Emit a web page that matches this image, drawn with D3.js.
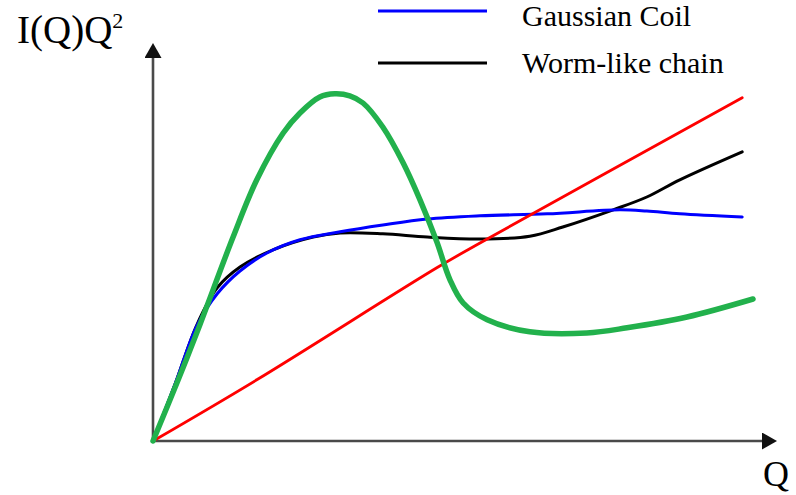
<!DOCTYPE html>
<html>
<head>
<meta charset="utf-8">
<script src="https://cdn.jsdelivr.net/npm/d3@7"></script>
<style>
  html, body { margin: 0; padding: 0; background: #fff; }
  svg { display: block; }
  text { font-family: "Liberation Serif", "Times New Roman", serif; fill: #000; }
</style>
</head>
<body>
<svg id="chart" width="796" height="495"></svg>
<script>
// Kratky plot sketch: I(Q)Q^2 versus Q for different chain conformations (arbitrary units)
const gaussianQ = [0, 0.37, 0.73, 1.07, 1.45, 1.9, 2.45, 3.12, 3.83, 4.57, 5.45, 6.57, 7.78, 8.23, 8.78, 9.82];
const gaussianI = [0, 1.43, 2.88, 3.68, 4.25, 4.7, 5.03, 5.23, 5.4, 5.55, 5.63, 5.68, 5.78, 5.75, 5.68, 5.6];

const wormQ = [0, 0.37, 0.73, 1.07, 1.45, 2.0, 2.67, 3.12, 3.83, 4.57, 5.45, 6.28, 6.83, 7.67, 8.23, 8.78, 9.82];
const wormI = [0, 1.43, 2.9, 3.83, 4.35, 4.78, 5.1, 5.2, 5.18, 5.1, 5.05, 5.12, 5.35, 5.78, 6.1, 6.53, 7.23];

const rodQ = [0, 1.73, 4.73, 5.45, 9.82];
const rodI = [0, 1.53, 4.33, 4.95, 8.58];

const globularQ = [0, 0.42, 0.78, 1.33, 1.73, 2.17, 2.45, 2.78, 3.03, 3.28, 3.5, 3.83, 4.17, 4.45, 4.73, 4.95, 5.17, 5.57, 6.28, 7.23, 7.9, 8.9, 10];
const globularI = [0, 1.53, 2.9, 5.08, 6.53, 7.7, 8.2, 8.6, 8.68, 8.63, 8.45, 7.85, 6.95, 6.03, 4.98, 4.03, 3.45, 3.03, 2.73, 2.7, 2.83, 3.1, 3.55];

const legendLabels = ["Gaussian Coil", "Worm-like chain"];
const legendColors = ["#0000ff", "#000000"];

const axisLabelY = "I(Q)Q";
const axisLabelYSup = "2";
const axisLabelX = "Q";

const svg = d3.select("#chart");

const x = d3.scaleLinear().domain([0, 10]).range([153, 753]);
const y = d3.scaleLinear().domain([0, 10]).range([441, 41]);

// axis extents (arrowheads start where the axis lines stop)
const qAxisEnd = 10.15;
const iAxisEnd = 9.575;

const defs = svg.append("defs");
defs.append("marker")
  .attr("id", "arrow")
  .attr("viewBox", "0 -8.5 15 17")
  .attr("refX", 0)
  .attr("refY", 0)
  .attr("markerUnits", "userSpaceOnUse")
  .attr("markerWidth", 15)
  .attr("markerHeight", 17)
  .attr("orient", "auto")
  .append("path")
  .attr("d", "M0,-8.5L15,0L0,8.5Z")
  .attr("fill", "#111");

const axisLine = d3.line().x(d => x(d[0])).y(d => y(d[1]));

svg.append("path")
  .attr("d", axisLine([[0, 0], [qAxisEnd, 0]]))
  .attr("stroke", "#4a4a4a").attr("stroke-width", 2.6).attr("fill", "none")
  .attr("marker-end", "url(#arrow)");

svg.append("path")
  .attr("d", axisLine([[0, -0.03], [0, iAxisEnd]]))
  .attr("stroke", "#4a4a4a").attr("stroke-width", 2.6).attr("fill", "none")
  .attr("marker-end", "url(#arrow)");

const curve = d3.line()
  .x(d => x(d[0]))
  .y(d => y(d[1]))
  .curve(d3.curveCatmullRom.alpha(0.5));

const series = [
  { q: wormQ, i: wormI, color: "#000000", width: 3 },
  { q: gaussianQ, i: gaussianI, color: "#0000ff", width: 3 },
  { q: rodQ, i: rodI, color: "#ff0000", width: 2.8 },
  { q: globularQ, i: globularI, color: "#22b14c", width: 5.5 }
];

svg.append("g").selectAll("path")
  .data(series)
  .join("path")
  .attr("d", s => curve(d3.zip(s.q, s.i)))
  .attr("fill", "none")
  .attr("stroke", s => s.color)
  .attr("stroke-width", s => s.width)
  .attr("stroke-linejoin", "round")
  .attr("stroke-linecap", "round");

// legend
const legend = svg.append("g");
const legendRows = [11, 63];
const legendBaselines = [26, 73];
legendLabels.forEach((label, k) => {
  legend.append("line")
    .attr("x1", 378).attr("x2", 487)
    .attr("y1", legendRows[k]).attr("y2", legendRows[k])
    .attr("stroke", legendColors[k]).attr("stroke-width", 3);
  legend.append("text")
    .attr("x", 522).attr("y", legendBaselines[k])
    .attr("font-size", 30)
    .text(label);
});

// axis titles
const yTitle = svg.append("text")
  .attr("x", 17).attr("y", 43)
  .attr("font-size", 39);
yTitle.append("tspan").text(axisLabelY);
yTitle.append("tspan")
  .attr("font-size", 22)
  .attr("dy", -15)
  .text(axisLabelYSup);

svg.append("text")
  .attr("x", 763).attr("y", 486)
  .attr("font-size", 36)
  .text(axisLabelX);
</script>
</body>
</html>
